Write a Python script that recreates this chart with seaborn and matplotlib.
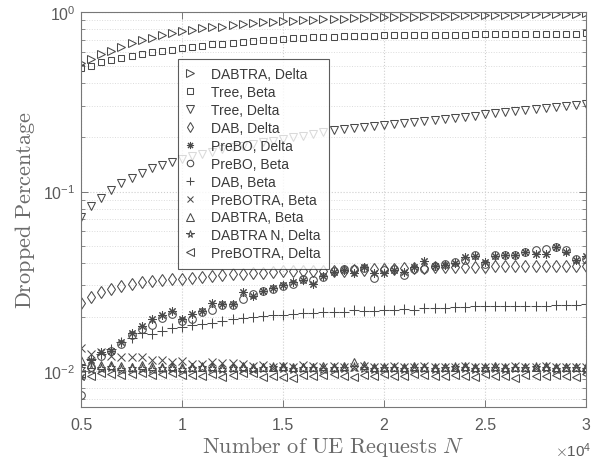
import matplotlib
matplotlib.use("Agg")
import numpy as np
import pandas as pd
import matplotlib.pyplot as plt
import seaborn as sns
from matplotlib.ticker import FixedLocator, FuncFormatter, LogLocator, NullFormatter

# ---------------- data ----------------
N = [5000, 5500, 6000, 6500, 7000, 7500, 8000, 8500, 9000, 9500,
     10000, 10500, 11000, 11500, 12000, 12500, 13000, 13500, 14000, 14500,
     15000, 15500, 16000, 16500, 17000, 17500, 18000, 18500, 19000, 19500,
     20000, 20500, 21000, 21500, 22000, 22500, 23000, 23500, 24000, 24500,
     25000, 25500, 26000, 26500, 27000, 27500, 28000, 28500, 29000, 29500,
     30000]

dabtra_delta = [0.52, 0.55, 0.58, 0.61, 0.64, 0.67, 0.70, 0.72, 0.745, 0.765,
                0.78, 0.795, 0.81, 0.82, 0.83, 0.845, 0.855, 0.865, 0.875, 0.88,
                0.89, 0.895, 0.90, 0.905, 0.91, 0.915, 0.92, 0.925, 0.93, 0.932,
                0.935, 0.938, 0.94, 0.943, 0.946, 0.95, 0.952, 0.955, 0.957, 0.96,
                0.962, 0.964, 0.966, 0.968, 0.97, 0.972, 0.974, 0.976, 0.978, 0.98,
                0.982]

tree_beta = [0.49, 0.50, 0.525, 0.54, 0.555, 0.57, 0.58, 0.595, 0.605, 0.615,
             0.63, 0.64, 0.65, 0.66, 0.665, 0.675, 0.68, 0.69, 0.695, 0.70,
             0.705, 0.715, 0.72, 0.725, 0.728, 0.73, 0.733, 0.735, 0.737, 0.739,
             0.741, 0.742, 0.743, 0.744, 0.745, 0.746, 0.747, 0.748, 0.749, 0.75,
             0.751, 0.752, 0.753, 0.754, 0.755, 0.756, 0.757, 0.758, 0.758, 0.759,
             0.76]

tree_delta = [0.072, 0.083, 0.092, 0.102, 0.111, 0.119, 0.127, 0.135, 0.141, 0.147,
              0.152, 0.157, 0.162, 0.167, 0.172, 0.176, 0.18, 0.184, 0.188, 0.192,
              0.196, 0.20, 0.205, 0.21, 0.215, 0.22, 0.223, 0.226, 0.229, 0.232,
              0.235, 0.238, 0.241, 0.244, 0.247, 0.25, 0.254, 0.257, 0.261, 0.265,
              0.27, 0.273, 0.277, 0.28, 0.284, 0.287, 0.291, 0.295, 0.298, 0.302,
              0.307]

dab_delta = [0.0241, 0.026, 0.0277, 0.0286, 0.0296, 0.0305, 0.0312, 0.0316, 0.0322, 0.0327,
             0.0326, 0.033, 0.0334, 0.0339, 0.0343, 0.0346, 0.0346, 0.035, 0.0352, 0.0358,
             0.036, 0.036, 0.036, 0.0361, 0.0362, 0.036, 0.0362, 0.0365, 0.0367, 0.037,
             0.037, 0.0372, 0.0373, 0.0374, 0.0375, 0.0378, 0.038, 0.038, 0.038, 0.0381,
             0.0382, 0.0383, 0.0383, 0.0384, 0.0384, 0.0385, 0.0385, 0.0386, 0.0386, 0.0386,
             0.0387]

prebo_delta = [0.0093, 0.0115, 0.0127, 0.013, 0.0145, 0.0162, 0.0178, 0.0194, 0.0205, 0.0215,
               0.0195, 0.0208, 0.0217, 0.0241, 0.0236, 0.0236, 0.0274, 0.0262, 0.028, 0.0292,
               0.0302, 0.0312, 0.0322, 0.0305, 0.034, 0.0355, 0.0365, 0.035, 0.038, 0.035,
               0.035, 0.0365, 0.0355, 0.0378, 0.041, 0.0386, 0.0392, 0.0398, 0.0432, 0.0435,
               0.0405, 0.044, 0.0445, 0.0442, 0.046, 0.045, 0.045, 0.049, 0.046, 0.0415,
               0.0435]

prebo_beta = [0.0074, 0.0105, 0.0122, 0.013, 0.0142, 0.0158, 0.0172, 0.018, 0.0198, 0.0208,
              0.019, 0.0195, 0.0212, 0.022, 0.0234, 0.0232, 0.0252, 0.027, 0.0278, 0.0288,
              0.0298, 0.0305, 0.0326, 0.032, 0.0335, 0.036, 0.0368, 0.0372, 0.0374, 0.0332,
              0.0365, 0.0368, 0.0345, 0.037, 0.037, 0.0385, 0.0395, 0.0405, 0.0413, 0.0442,
              0.0395, 0.0442, 0.0445, 0.0445, 0.0458, 0.047, 0.048, 0.049, 0.047, 0.042,
              0.042]

dab_beta = [0.0108, 0.0117, 0.0125, 0.0132, 0.0145, 0.0152, 0.0164, 0.0161, 0.0168, 0.0173,
            0.0177, 0.018, 0.0183, 0.0185, 0.0191, 0.0196, 0.0198, 0.02, 0.0202, 0.0204,
            0.0205, 0.0208, 0.0211, 0.0211, 0.0213, 0.0214, 0.0214, 0.022, 0.0217, 0.0217,
            0.022, 0.022, 0.0222, 0.022, 0.0225, 0.0225, 0.0226, 0.0227, 0.0228, 0.0229,
            0.0229, 0.023, 0.023, 0.023, 0.023, 0.0231, 0.0231, 0.0232, 0.0232, 0.0233,
            0.0235]

prebotra_beta = [0.0134, 0.0124, 0.0127, 0.0121, 0.012, 0.012, 0.012, 0.0116, 0.0116, 0.0113,
                 0.0114, 0.011, 0.011, 0.0113, 0.0111, 0.0111, 0.011, 0.0107, 0.0108, 0.0106,
                 0.0107, 0.0106, 0.0108, 0.0107, 0.0106, 0.0107, 0.0105, 0.0106, 0.0107, 0.0106,
                 0.0106, 0.0107, 0.0105, 0.0106, 0.0107, 0.0106, 0.0105, 0.0106, 0.0107, 0.0106,
                 0.0106, 0.0105, 0.0106, 0.0107, 0.0106, 0.0106, 0.0107, 0.0106, 0.0105, 0.0106,
                 0.0106]

dabtra_beta = [0.0116, 0.011, 0.0108, 0.0108, 0.0107, 0.0106, 0.0108, 0.0107, 0.0106, 0.0107,
               0.0106, 0.0105, 0.0106, 0.0107, 0.0106, 0.0106, 0.0107, 0.0106, 0.0105, 0.0106,
               0.0107, 0.0106, 0.0105, 0.0106, 0.0107, 0.0106, 0.0107, 0.0112, 0.0108, 0.0106,
               0.0106, 0.0105, 0.0106, 0.0107, 0.0106, 0.0106, 0.0105, 0.0106, 0.0107, 0.0106,
               0.0106, 0.0107, 0.0106, 0.0105, 0.0106, 0.0106, 0.0107, 0.0106, 0.0106, 0.0105,
               0.0106]

dabtra_n_delta = [0.0104, 0.0103, 0.0104, 0.0105, 0.0103, 0.0104, 0.0104, 0.0103, 0.0104, 0.0104,
                  0.0103, 0.0104, 0.0105, 0.0104, 0.0103, 0.0104, 0.0104, 0.0103, 0.0104, 0.0105,
                  0.0104, 0.0103, 0.0104, 0.0104, 0.0103, 0.0104, 0.0104, 0.0105, 0.0104, 0.0103,
                  0.0104, 0.0104, 0.0103, 0.0104, 0.0104, 0.0103, 0.0104, 0.0105, 0.0104, 0.0103,
                  0.0104, 0.0104, 0.0103, 0.0104, 0.0104, 0.0105, 0.0104, 0.0103, 0.0104, 0.0104,
                  0.0103]

prebotra_delta = [0.0096, 0.0094, 0.0098, 0.0096, 0.0095, 0.0096, 0.0098, 0.0095, 0.0096, 0.0097,
                  0.0095, 0.0095, 0.0094, 0.0096, 0.0093, 0.0095, 0.0097, 0.0098, 0.0093, 0.0094,
                  0.0093, 0.0092, 0.0095, 0.0094, 0.0095, 0.0096, 0.0094, 0.0093, 0.0095, 0.0094,
                  0.0096, 0.0094, 0.0094, 0.0096, 0.0095, 0.0094, 0.0094, 0.0095, 0.0094, 0.0093,
                  0.0096, 0.0094, 0.0094, 0.0092, 0.0095, 0.0094, 0.0094, 0.0095, 0.0094, 0.0093,
                  0.0096]

labels = ["DABTRA, Delta", "Tree, Beta", "Tree, Delta", "DAB, Delta", "PreBO, Delta",
          "PreBO, Beta", "DAB, Beta", "PreBOTRA, Beta", "DABTRA, Beta",
          "DABTRA N, Delta", "PreBOTRA, Delta"]
series = [dabtra_delta, tree_beta, tree_delta, dab_delta, prebo_delta, prebo_beta,
          dab_beta, prebotra_beta, dabtra_beta, dabtra_n_delta, prebotra_delta]
x_ticks = [5000, 10000, 15000, 20000, 25000, 30000]

# ---------------- style ----------------
sns.set_style("ticks")
plt.rcParams["font.family"] = ["Liberation Sans", "DejaVu Sans"]
plt.rcParams["mathtext.fontset"] = "cm"

markers = [">", "s", "v", "d", (8, 2, 0), "o", "+", "x", "^", "*", "<"]
msizes = [6.2, 4.8, 6.2, 6.0, 6.0, 5.5, 6.5, 5.5, 6.0, 6.5, 6.0]
mcol = "#4a4a4a"
txtcol = "#6a6a6a"

fig = plt.figure(figsize=(5.96, 4.6), dpi=100)
ax = fig.add_axes([81 / 596, 1 - 408 / 460, 505 / 596, 395 / 460])

for lab, vals, mk, ms in zip(labels, series, markers, msizes):
    df = pd.DataFrame({"N": N, "v": vals})
    sns.lineplot(data=df, x="N", y="v", ax=ax, marker=mk, linestyle="none",
                 markersize=ms, markerfacecolor="none", markeredgecolor=mcol,
                 markeredgewidth=0.75, color=mcol, label=lab)

ax.set_yscale("log")
ax.set_xlim(5000, 30000)
ax.set_ylim(10 ** -2.2, 1.0)

ax.xaxis.set_major_locator(FixedLocator(x_ticks))
ax.xaxis.set_major_formatter(FuncFormatter(lambda v, p: f"{v / 1e4:g}"))
ax.yaxis.set_major_locator(LogLocator(base=10, numticks=10))
ax.yaxis.set_minor_locator(LogLocator(base=10, subs=np.arange(2, 10), numticks=20))
ax.yaxis.set_minor_formatter(NullFormatter())

ax.grid(True, which="major", axis="both", linestyle=":", color="#cfcfcf", linewidth=0.8)
ax.grid(True, which="minor", axis="y", linestyle=":", color="#dcdcdc", linewidth=0.7)

ax.tick_params(which="both", direction="in", top=True, right=True, colors="#777777",
               labelcolor="#5a5a5a", labelsize=11.5)
ax.tick_params(which="major", length=5, width=0.7)
ax.tick_params(which="minor", length=3, width=0.6)
ax.tick_params(axis="x", pad=7)
ax.tick_params(axis="y", pad=4)
for sp in ax.spines.values():
    sp.set_color("#777777")
    sp.set_linewidth(0.8)

ax.set_xlabel(r"$\mathrm{Number\ of\ UE\ Requests}\ N$", fontsize=16, color=txtcol)
ax.set_ylabel(r"$\mathrm{Dropped\ Percentage}$", fontsize=16, color=txtcol)
ax.xaxis.set_label_coords(0.5, -0.068)
ax.yaxis.set_label_coords(-0.087, 0.5)

ax.text(1.01, -0.085, r"$\times\mathdefault{10^{4}}$", transform=ax.transAxes,
        ha="right", va="top", fontsize=11, color="#5a5a5a")

leg = ax.legend(loc="upper left", bbox_to_anchor=(0.192, 0.881), frameon=True,
                fancybox=False, edgecolor="#333333", fontsize=10, labelspacing=0.28,
                handlelength=0.6, handletextpad=1.15, borderpad=0.6, borderaxespad=0,
                markerscale=0.85)
leg.get_frame().set_linewidth(0.8)
for t in leg.get_texts():
    t.set_color("#3a3a3a")

fig.savefig("out.png", dpi=100)
